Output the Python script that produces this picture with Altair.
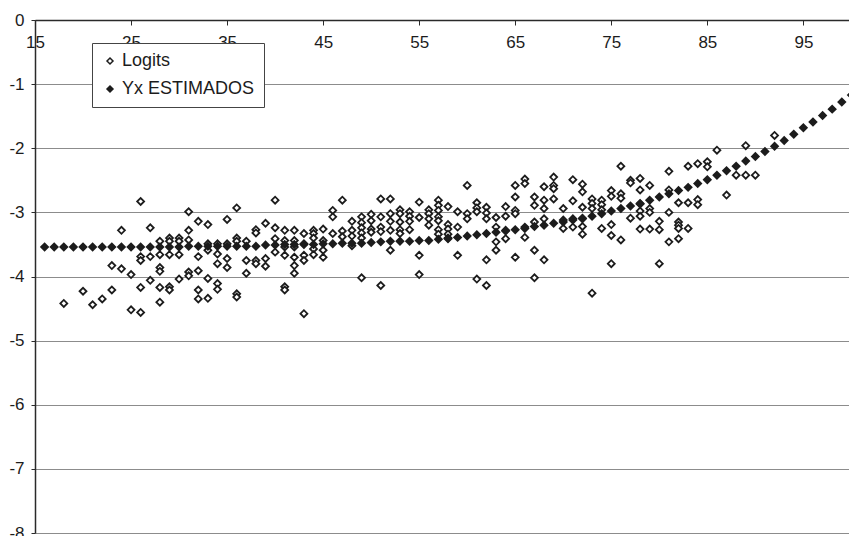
import altair as alt
import pandas as pd

# ---- data ----
yx_age = list(range(16, 101))
yx_value = [
    -3.54, -3.54, -3.54, -3.54, -3.54, -3.54, -3.54, -3.54, -3.54, -3.54,  # 16-25
    -3.54, -3.54, -3.54, -3.54, -3.54, -3.53, -3.53, -3.53, -3.53, -3.53,  # 26-35
    -3.53, -3.53, -3.53, -3.51, -3.51, -3.50, -3.50, -3.50, -3.50, -3.49,  # 36-45
    -3.49, -3.48, -3.48, -3.48, -3.47, -3.46, -3.45, -3.45, -3.45, -3.44,  # 46-55
    -3.44, -3.42, -3.40, -3.39, -3.37, -3.35, -3.33, -3.31, -3.29, -3.27,  # 56-65
    -3.25, -3.22, -3.20, -3.17, -3.15, -3.12, -3.09, -3.06, -3.02, -2.98,  # 66-75
    -2.94, -2.90, -2.86, -2.81, -2.76, -2.71, -2.66, -2.61, -2.55, -2.49,  # 76-85
    -2.42, -2.35, -2.28, -2.20, -2.13, -2.05, -1.97, -1.88, -1.78, -1.68,  # 86-95
    -1.59, -1.49, -1.39, -1.28, -1.17,                                      # 96-100
]

logit_age = (
    [18, 20, 21, 22, 23, 23, 24, 24, 25, 25]
    + [26] * 5 + [27] * 3 + [28] * 6 + [29] * 5 + [30] * 4
    + [31] * 5 + [32] * 5 + [33] * 5 + [34] * 5 + [35] * 4
    + [36] * 5 + [37] * 3 + [38] * 4 + [39] * 3 + [40] * 4
    + [41] * 6 + [42] * 6 + [43] * 5 + [44] * 5 + [45] * 4
    + [46] * 3 + [47] * 3 + [48] * 4 + [49] * 6 + [50] * 4
    + [51] * 5 + [52] * 5 + [53] * 5 + [54] * 4 + [55] * 4
    + [56] * 4 + [57] * 7 + [58] * 5 + [59] * 3 + [60] * 3
    + [61] * 4 + [62] * 5 + [63] * 4 + [64] * 4 + [65] * 5
    + [66] * 4 + [67] * 5 + [68] * 5 + [69] * 4 + [70] * 3
    + [71] * 4 + [72] * 6 + [73] * 4 + [74] * 4 + [75] * 5
    + [76] * 4 + [77] * 3 + [78] * 6 + [79] * 4 + [80] * 3
    + [81] * 4 + [82] * 5 + [83] * 3 + [84] * 3 + [85] * 2
    + [86, 87, 88, 89, 89, 90, 92]
)
logit_value = (
    [-4.42, -4.23, -4.44, -4.35, -3.83, -4.21, -3.28, -3.88, -3.97, -4.52]
    + [-2.83, -3.69, -3.75, -4.17, -4.56]
    + [-3.24, -3.69, -4.06]
    + [-3.45, -3.66, -3.86, -3.92, -4.17, -4.40]
    + [-3.40, -3.45, -3.66, -4.16, -4.21]
    + [-3.40, -3.45, -3.66, -4.04]
    + [-2.99, -3.28, -3.43, -3.93, -3.99]
    + [-3.14, -3.69, -3.91, -4.21, -4.35]
    + [-3.19, -3.49, -3.59, -4.03, -4.34]
    + [-3.49, -3.65, -3.80, -4.11, -4.20]
    + [-3.11, -3.49, -3.72, -3.86]
    + [-2.93, -3.40, -3.45, -4.27, -4.32]
    + [-3.45, -3.75, -3.95]
    + [-3.27, -3.32, -3.75, -3.80]
    + [-3.17, -3.72, -3.84]
    + [-2.81, -3.24, -3.41, -3.62]
    + [-3.28, -3.44, -3.54, -3.67, -4.16, -4.21]
    + [-3.28, -3.44, -3.54, -3.70, -3.83, -3.95]
    + [-3.33, -3.49, -3.67, -3.75, -4.58]
    + [-3.28, -3.33, -3.40, -3.57, -3.66]
    + [-3.26, -3.44, -3.59, -3.70]
    + [-2.97, -3.07, -3.33]
    + [-2.81, -3.29, -3.38]
    + [-3.14, -3.28, -3.37, -3.52]
    + [-3.07, -3.16, -3.24, -3.32, -3.40, -4.02]
    + [-3.03, -3.13, -3.26, -3.31]
    + [-2.79, -3.07, -3.23, -3.30, -4.14]
    + [-2.79, -3.02, -3.14, -3.28, -3.59]
    + [-2.96, -3.02, -3.15, -3.27, -3.33]
    + [-2.99, -3.06, -3.14, -3.27]
    + [-2.84, -3.08, -3.67, -3.97]
    + [-2.96, -3.02, -3.10, -3.20]
    + [-2.81, -2.89, -2.97, -3.07, -3.13, -3.27, -3.34]
    + [-2.91, -3.19, -3.26, -3.34, -3.41]
    + [-2.99, -3.23, -3.67]
    + [-2.58, -3.02, -3.10]
    + [-2.85, -2.93, -2.99, -4.04]
    + [-2.92, -3.01, -3.10, -3.74, -4.14]
    + [-3.08, -3.23, -3.46, -3.59]
    + [-2.91, -3.06, -3.28, -3.41]
    + [-2.58, -2.76, -2.97, -3.02, -3.70]
    + [-2.48, -2.55, -3.23, -3.39]
    + [-2.76, -2.89, -3.15, -3.59, -4.02]
    + [-2.60, -2.81, -2.94, -3.10, -3.74]
    + [-2.45, -2.58, -2.63, -2.79]
    + [-2.94, -3.12, -3.25]
    + [-2.49, -2.82, -3.10, -3.23]
    + [-2.56, -2.68, -2.92, -3.10, -3.22, -3.34]
    + [-2.79, -2.86, -2.94, -4.26]
    + [-2.81, -2.88, -2.96, -3.25]
    + [-2.66, -2.75, -3.19, -3.36, -3.80]
    + [-2.28, -2.71, -2.78, -3.43]
    + [-2.50, -2.54, -3.09]
    + [-2.47, -2.65, -2.87, -2.98, -3.06, -3.26]
    + [-2.58, -2.94, -3.00, -3.26]
    + [-3.14, -3.27, -3.80]
    + [-2.36, -2.65, -3.00, -3.46]
    + [-2.85, -3.15, -3.20, -3.25, -3.41]
    + [-2.28, -2.85, -3.25]
    + [-2.24, -2.80, -2.88]
    + [-2.21, -2.29]
    + [-2.03, -2.73, -2.42, -1.96, -2.42, -2.42, -1.80]
)

series_names = ["Logits", "Yx ESTIMADOS"]
x_ticks = [15, 25, 35, 45, 55, 65, 75, 85, 95]
y_ticks = [0, -1, -2, -3, -4, -5, -6, -7, -8]

df = pd.concat([
    pd.DataFrame({"edad": logit_age, "valor": logit_value, "serie": series_names[0]}),
    pd.DataFrame({"edad": yx_age, "valor": yx_value, "serie": series_names[1]}),
], ignore_index=True)

W, H = 814, 513
FONT = "Liberation Sans"
INK = "#1c1c1c"

chart = alt.Chart(df).mark_point(
    shape="diamond", filled=True, size=48, stroke=INK, strokeWidth=1.8,
    opacity=1, clip=True
).encode(
    x=alt.X("edad:Q",
            scale=alt.Scale(domain=[15, 99.75], nice=False, zero=False),
            axis=alt.Axis(orient="bottom", offset=-H, values=x_ticks, title=None,
                          grid=False, tickSize=5, labelPadding=9, labelFontSize=17,
                          labelFont=FONT, labelColor=INK, domainColor="#2a2a2a",
                          domainWidth=1.5, tickColor="#2a2a2a", labelFlush=False,
                          labelExpr="toString(datum.value)")),
    y=alt.Y("valor:Q",
            scale=alt.Scale(domain=[-8, 0], nice=False, zero=False),
            axis=alt.Axis(values=y_ticks, title=None, grid=True, gridColor="#8c8c8c",
                          gridWidth=1.2, tickSize=4, labelPadding=7, labelFontSize=17,
                          labelFont=FONT, labelColor=INK, domainColor="#2a2a2a",
                          domainWidth=1.5, tickColor="#2a2a2a",
                          labelExpr="toString(datum.value)")),
    fill=alt.Fill("serie:N",
                  scale=alt.Scale(domain=series_names, range=["white", INK]),
                  legend=alt.Legend(title=None, orient="none", legendX=57, legendY=23,
                                    strokeColor="#444", fillColor="white", padding=9,
                                    labelFont=FONT, labelFontSize=18, labelColor=INK,
                                    symbolType="diamond", symbolSize=36,
                                    symbolStrokeColor=INK, symbolStrokeWidth=1.5,
                                    labelOffset=3, rowPadding=10)),
    order=alt.Order("serie:N"),
).properties(
    width=W, height=H,
    autosize=alt.AutoSizeParams(type="none"),
    padding={"left": 35, "top": 20, "right": 0, "bottom": 3},
).configure_view(stroke=None).configure(background="white")

chart.save("out.html", embed_options={"renderer": "svg", "actions": False})
